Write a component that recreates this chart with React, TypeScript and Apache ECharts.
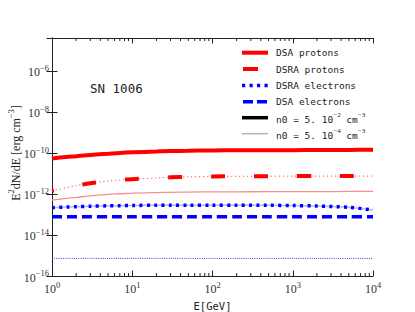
import React, { useEffect, useRef } from "react";
import * as echarts from "echarts";

// Energy grid (GeV)
const energies = [1, 1.5, 2, 3, 5, 7, 10, 20, 30, 50, 100, 200, 500, 1000, 2000, 5000, 10000];

// E^2 dN/dE [erg cm^-3]
const dsaProtons = [5.37e-11, 6.31e-11, 6.92e-11, 7.94e-11, 9.12e-11, 1.0e-10, 1.07e-10, 1.17e-10, 1.23e-10, 1.26e-10, 1.32e-10, 1.33e-10, 1.35e-10, 1.36e-10, 1.38e-10, 1.4e-10, 1.41e-10];
const dsraProtons = [1.41e-12, 2.0e-12, 2.51e-12, 3.31e-12, 4.27e-12, 4.79e-12, 5.25e-12, 6.03e-12, 6.46e-12, 6.76e-12, 7.08e-12, 7.24e-12, 7.33e-12, 7.41e-12, 7.41e-12, 7.41e-12, 7.41e-12];
const protonsLowDensity = [5.01e-13, 6.03e-13, 6.76e-13, 8.13e-13, 9.55e-13, 1.02e-12, 1.1e-12, 1.17e-12, 1.2e-12, 1.23e-12, 1.26e-12, 1.27e-12, 1.29e-12, 1.3e-12, 1.3e-12, 1.32e-12, 1.32e-12];
const dsraElectrons = [2.14e-13, 2.29e-13, 2.4e-13, 2.51e-13, 2.63e-13, 2.69e-13, 2.75e-13, 2.79e-13, 2.82e-13, 2.82e-13, 2.82e-13, 2.82e-13, 2.79e-13, 2.72e-13, 2.57e-13, 2.24e-13, 1.62e-13];
const dsaElectrons = [7.8e-14, 7.8e-14, 7.8e-14, 7.8e-14, 7.8e-14, 7.8e-14, 7.8e-14, 7.8e-14, 7.8e-14, 7.8e-14, 7.8e-14, 7.8e-14, 7.8e-14, 7.8e-14, 7.8e-14, 7.8e-14, 7.8e-14];
const electronsLowDensity = [7.2e-16, 7.2e-16, 7.2e-16, 7.2e-16, 7.2e-16, 7.2e-16, 7.2e-16, 7.2e-16, 7.2e-16, 7.2e-16, 7.2e-16, 7.2e-16, 7.2e-16, 7.2e-16, 7.2e-16, 7.2e-16, 7.2e-16];

// axis ranges (decades)
const xDecades = [0, 4];
const yDecades = [-16, -4.4];
const minorEnergies = [2, 3, 4, 5, 6, 7, 8, 9, 20, 30, 40, 50, 60, 70, 80, 90, 200, 300, 400, 500, 600, 700, 800, 900, 2000, 3000, 4000, 5000, 6000, 7000, 8000, 9000];

const legendLabels = ["DSA protons", "DSRA protons", "DSRA electrons", "DSA electrons"];
const densityLabels = [
  ["n0 = 5. 10", "−2", " cm", "−3"],
  ["n0 = 5. 10", "−4", " cm", "−3"],
];
const sourceName = "SN 1006";
const yTitleParts = ["E", "2", "dN/dE [erg cm", "−3", "]"];

const MONO = "'DejaVu Sans Mono', 'Liberation Mono', monospace";
const SERIF = "'Liberation Serif', 'DejaVu Serif', serif";
const AX = "#222";

const toPts = (vals: number[]) => energies.map((e, i) => [Math.log10(e), Math.log10(vals[i])]);
const sup = (v: number) => (v < 0 ? "−" + Math.abs(v) : String(v));

const tickRich = {
  b: { fontSize: 12, fontFamily: SERIF, color: "#333", lineHeight: 15, verticalAlign: "bottom" },
  s: { fontSize: 8.5, fontFamily: SERIF, color: "#333", lineHeight: 9, verticalAlign: "top" },
};

export default function App() {
  const ref = useRef<HTMLDivElement>(null);
  useEffect(() => {
    if (!ref.current) return;
    const chart = echarts.init(ref.current, null, { renderer: "svg" });

    const line = (name: string, vals: number[], color: string, width: number, type: any, z: number, extra: any = {}) => ({
      type: "line",
      name,
      data: toPts(vals),
      showSymbol: false,
      symbol: "none",
      smooth: 0.3,
      z,
      silent: true,
      lineStyle: { color, width, type, cap: "butt", ...extra },
    });

    const legendY = [52.7, 69, 85.5, 101.7, 117.7, 133.7];
    const lx1 = 242, lx2 = 268, tx = 276;
    const legendGraphics: any[] = [
      { type: "line", shape: { x1: lx1, y1: legendY[0], x2: lx2, y2: legendY[0] }, style: { stroke: "#ff0000", lineWidth: 4 } },
      { type: "line", shape: { x1: 243, y1: legendY[1], x2: 258, y2: legendY[1] }, style: { stroke: "#ff0000", lineWidth: 4 } },
      { type: "line", shape: { x1: 242, y1: legendY[2], x2: 268, y2: legendY[2] }, style: { stroke: "#0000ff", lineWidth: 3.5, lineDash: [3.2, 4.3] } },
      { type: "line", shape: { x1: 243, y1: legendY[3], x2: 268, y2: legendY[3] }, style: { stroke: "#0000ff", lineWidth: 3.5, lineDash: [10, 4] } },
      { type: "line", shape: { x1: lx1, y1: legendY[4], x2: lx2, y2: legendY[4] }, style: { stroke: "#000000", lineWidth: 3.5 } },
      { type: "line", shape: { x1: lx1, y1: legendY[5], x2: lx2, y2: legendY[5] }, style: { stroke: "#b5b5b5", lineWidth: 1.5 } },
    ];
    legendLabels.forEach((t, i) => {
      legendGraphics.push({
        type: "text",
        style: { x: tx, y: legendY[i], text: t, font: `9.5px ${MONO}`, fill: "#222", verticalAlign: "middle" },
      });
    });
    densityLabels.forEach((p, i) => {
      legendGraphics.push({
        type: "text",
        style: {
          x: tx,
          y: legendY[4 + i],
          text: `{n|${p[0]}}{s|${p[1]}}{n|${p[2]}}{s|${p[3]}}`,
          verticalAlign: "middle",
          rich: {
            n: { fontSize: 9.5, fontFamily: MONO, fill: "#222", lineHeight: 13, verticalAlign: "bottom" },
            s: { fontSize: 7, fontFamily: SERIF, fill: "#222", lineHeight: 8, verticalAlign: "top" },
          },
        },
      });
    });

    const option: any = {
      animation: false,
      grid: { left: 52, right: 42, top: 38, bottom: 36, containLabel: false, outerBoundsMode: "none" },
      xAxis: [
        {
          type: "value",
          min: xDecades[0],
          max: xDecades[1],
          interval: 1,
          position: "bottom",
          axisLine: { show: true, lineStyle: { color: AX, width: 1 } },
          axisTick: { show: true, inside: true, length: 5.5, lineStyle: { color: AX } },
          splitLine: { show: false },
          axisLabel: { margin: 4, formatter: (v: number) => `{b|10}{s|${sup(Math.round(v))}}`, rich: tickRich },
          name: "E[GeV]",
          nameLocation: "middle",
          nameGap: 24,
          nameTextStyle: { fontFamily: MONO, fontSize: 10.5, color: "#222" },
        },
        {
          type: "value",
          min: xDecades[0],
          max: xDecades[1],
          interval: 1,
          position: "top",
          axisLine: { show: true, lineStyle: { color: AX, width: 1 } },
          axisTick: { show: true, inside: true, length: 5.5, lineStyle: { color: AX } },
          splitLine: { show: false },
          axisLabel: { show: false },
        },
      ],
      yAxis: [
        {
          type: "value",
          min: yDecades[0],
          max: yDecades[1],
          interval: 2,
          position: "left",
          axisLine: { show: true, lineStyle: { color: AX, width: 1 } },
          axisTick: { show: true, inside: true, length: 5.5, lineStyle: { color: AX } },
          splitLine: { show: false },
          axisLabel: {
            margin: 3,
            formatter: (v: number) => (Math.abs(v - Math.round(v)) < 1e-6 ? `{b|10}{s|${sup(Math.round(v))}}` : ""),
            rich: tickRich,
          },
        },
        {
          type: "value",
          min: yDecades[0],
          max: yDecades[1],
          interval: 2,
          position: "right",
          axisLine: { show: true, lineStyle: { color: AX, width: 1 } },
          axisTick: { show: true, inside: true, length: 5.5, lineStyle: { color: AX } },
          splitLine: { show: false },
          axisLabel: { show: false },
        },
      ],
      series: [
        {
          type: "custom",
          name: "minor ticks",
          silent: true,
          data: minorEnergies.map((e) => [Math.log10(e), yDecades[0]]),
          encode: { x: 0, y: 1 },
          clip: false,
          renderItem: (params: any, api: any) => {
            const x = api.value(0);
            const b = api.coord([x, yDecades[0]]);
            const t = api.coord([x, yDecades[1]]);
            return {
              type: "group",
              children: [
                { type: "line", shape: { x1: b[0], y1: b[1], x2: b[0], y2: b[1] - 3 }, style: { stroke: AX, lineWidth: 1 } },
                { type: "line", shape: { x1: t[0], y1: t[1], x2: t[0], y2: t[1] + 3 }, style: { stroke: AX, lineWidth: 1 } },
              ],
            };
          },
        },
        line("electrons low density", electronsLowDensity, "#3a3aff", 1, [1, 1.2], 2),
        line("protons low density", protonsLowDensity, "#f59090", 1.3, "solid", 2),
        line("DSRA electrons low", dsraElectrons, "rgba(90,90,255,0.45)", 1.5, "solid", 2),
        line("DSRA protons dotted", dsraProtons, "#ff5050", 1, [1.2, 2.8], 2),
        line("DSA electrons", dsaElectrons, "#0000ff", 3.5, [10, 5], 3),
        line("DSRA electrons", dsraElectrons, "#0000ff", 3.5, [3, 4.3], 3),
        line("DSRA protons", dsraProtons, "#ff0000", 4, [14, 29], 3, { dashOffset: 12 }),
        line("DSA protons", dsaProtons, "#ff0000", 4, "solid", 3),
      ],
      graphic: [
        ...legendGraphics,
        {
          type: "text",
          style: { x: 90, y: 88, text: sourceName, font: `12.5px ${MONO}`, fill: "#222", verticalAlign: "middle" },
        },
        {
          type: "text",
          x: 14,
          y: 153,
          rotation: Math.PI / 2,
          style: {
            text: `{n|${yTitleParts[0]}}{s|${yTitleParts[1]}}{n|${yTitleParts[2]}}{s|${yTitleParts[3]}}{n|${yTitleParts[4]}}`,
            align: "center",
            verticalAlign: "middle",
            rich: {
              n: { fontSize: 12, fontFamily: SERIF, fill: "#222", lineHeight: 16, verticalAlign: "bottom" },
              s: { fontSize: 8.5, fontFamily: SERIF, fill: "#222", lineHeight: 10, verticalAlign: "top" },
            },
          },
        },
      ],
    };
    chart.setOption(option);
    return () => chart.dispose();
  }, []);
  return <div ref={ref} style={{ position: "fixed", left: 0, top: 0, width: 415, height: 312, background: "#fff" }} />;
}
